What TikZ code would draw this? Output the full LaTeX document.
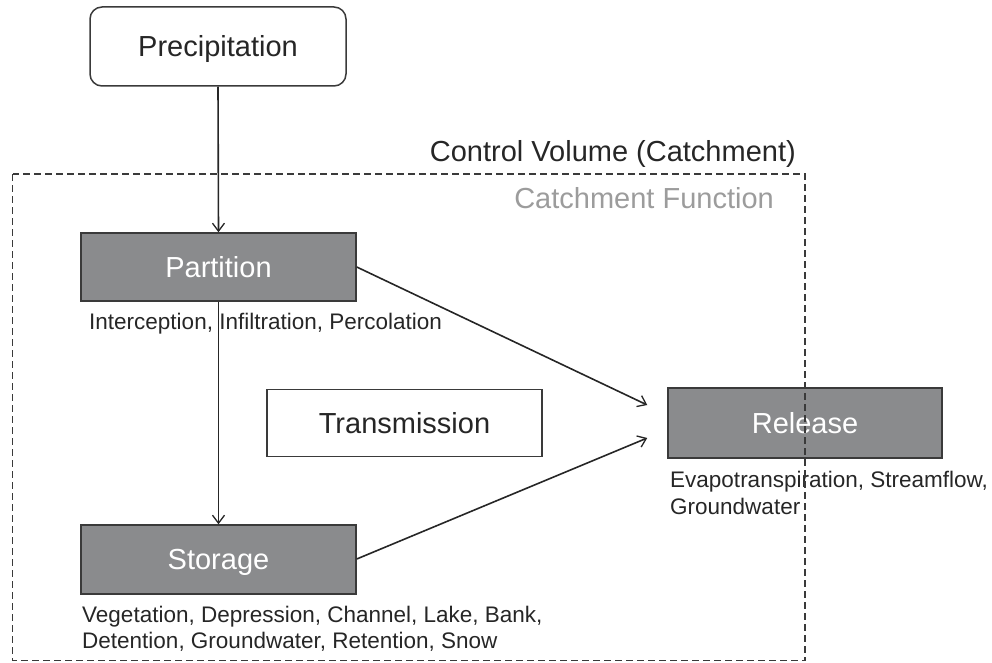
\documentclass[tikz,border=0pt]{standalone}
\usepackage{fontspec}
\setmainfont{Liberation Sans}
\usetikzlibrary{arrows.meta,calc}
\definecolor{boxgray}{HTML}{8A8B8D}
\definecolor{edgegray}{HTML}{3A3A3A}
\definecolor{txt}{HTML}{262626}
\definecolor{lightgrey}{HTML}{9C9C9C}
\tikzset{
  bigfont/.style={font=\fontsize{29}{34}\selectfont},
  smallfont/.style={font=\fontsize{22.5}{26.5}\selectfont},
  whitebox/.style={draw=edgegray, line width=1.5pt, fill=white, text=txt, bigfont,
    minimum width=274pt, minimum height=67pt, inner sep=0pt, text height=20.8pt, text depth=0pt},
  graybox/.style={draw=edgegray, line width=1.5pt, fill=boxgray, text=white, bigfont,
    minimum width=275pt, minimum height=68pt, inner sep=0pt, text height=20.8pt, text depth=0pt},
  lbl/.style={smallfont, text=txt, inner sep=0pt, align=left},
  flow/.style={draw=txt, line width=1.6pt, -{Straight Barb[length=8pt,width=12pt,line width=1.3pt]}},
}
\begin{document}
\begin{tikzpicture}[x=1pt,y=-1pt]
\useasboundingbox (0,0) rectangle (992,663);
% nodes
\node[whitebox, rounded corners=12pt, minimum width=256pt, minimum height=79pt] (prec) at (218,46.5) {Precipitation};
\node[graybox] (part) at (218.5,267) {Partition};
\node[whitebox, minimum width=275pt] (trans) at (404.5,423) {Transmission};
\node[graybox, minimum width=274pt, minimum height=70pt] (rel) at (805,423) {Release};
\node[graybox, minimum height=69pt] (stor) at (218.5,559.5) {Storage};
% labels
\node[lbl, anchor=base west] (plab) at (89,329) {Interception, Infiltration, Percolation};
\node[lbl, anchor=base west] (rlab1) at (670,487) {Evapotranspiration, Streamflow,};
\node[lbl, anchor=base west] (rlab2) at (670,514) {Groundwater};
\node[lbl, anchor=base west] (slab1) at (82,622) {Vegetation, Depression, Channel, Lake, Bank,};
\node[lbl, anchor=base west] (slab2) at (82,648) {Detention, Groundwater, Retention, Snow};
\node[bigfont, text=txt, inner sep=0pt, anchor=base east] (cv) at (796,161) {Control Volume (Catchment)};
\node[bigfont, text=lightgrey, inner sep=0pt, anchor=base east] (cf) at (774,208) {Catchment Function};
% connectors
\coordinate (r1) at ([xshift=-20pt,yshift=18pt]rel.west);
\coordinate (r2) at ([xshift=-20pt,yshift=-15pt]rel.west);
\draw[flow] (prec.south) -- (part.north);
\draw[flow] (part.south) -- (stor.north);
\draw[flow] (part.east) -- (r1);
\draw[flow] ([yshift=0.5pt]stor.east) -- (r2);
% control volume
\draw[draw=edgegray, line width=1.8pt, dash pattern=on 7pt off 4pt] (12.5,174) rectangle (805,660.5);
\end{tikzpicture}
\end{document}
